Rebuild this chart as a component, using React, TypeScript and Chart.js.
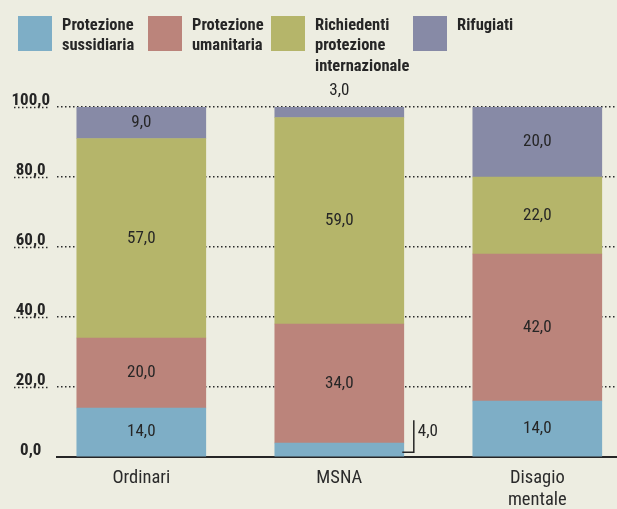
import React, { useEffect, useRef } from 'react';
import { Chart, registerables } from 'chart.js';

Chart.register(...registerables);

// ---- data ----
const categories: string[][] = [['Ordinari'], ['MSNA'], ['Disagio', 'mentale']];
const seriesNames = [
  'Protezione sussidiaria',
  'Protezione umanitaria',
  'Richiedenti protezione internazionale',
  'Rifugiati',
];
const sussidiaria = [14, 4, 16]; // bar heights as drawn
const sussidiariaPrinted = [14, 4, 14]; // numbers printed in the source
const umanitaria = [20, 34, 42];
const richiedenti = [57, 59, 22];
const rifugiati = [9, 3, 20];
const yMin = 0;
const yMax = 100;
const yStep = 20;

// ---- style ----
const COLORS = ['#7eaec6', '#bb847b', '#b5b56a', '#878aa6'];
const BG = '#ededE1';
const INK = '#262626';
const FONT = "'Roboto Condensed', 'Open Sans Condensed', 'DejaVu Sans Condensed', sans-serif";
const LEGEND_X = [18, 148, 271, 413];
const CAT_PX0 = 141.3; // pixel of first category centre
const CAT_STEP = 198; // pixels between categories
const AREA_L = 57;
const AREA_R = 617;
const X_MIN = (AREA_L - CAT_PX0) / CAT_STEP;
const X_MAX = (AREA_R - CAT_PX0) / CAT_STEP;
const DASH = [1.5, 2.5];

const fmt = (v: number) => v.toFixed(1).replace('.', ',');

export default function App() {
  const ref = useRef<HTMLCanvasElement>(null);

  useEffect(() => {
    const canvas = ref.current;
    if (!canvas) return;
    const series = [sussidiaria, umanitaria, richiedenti, rifugiati];
    const printed = [sussidiariaPrinted, umanitaria, richiedenti, rifugiati];

    const bgPlugin = {
      id: 'bg',
      beforeDraw(chart: any) {
        const c = chart.ctx;
        c.save();
        c.fillStyle = BG;
        c.fillRect(0, 0, chart.width, chart.height);
        c.restore();
      },
    };

    const legendPlugin = {
      id: 'topLegend',
      afterDraw(chart: any) {
        const c = chart.ctx;
        c.save();
        c.font = `bold 16.5px ${FONT}`;
        c.textAlign = 'left';
        c.textBaseline = 'alphabetic';
        chart.data.datasets.forEach((ds: any, i: number) => {
          const x0 = LEGEND_X[i];
          c.fillStyle = ds.backgroundColor;
          c.fillRect(x0, 16, 34, 35);
          c.fillStyle = INK;
          String(ds.label)
            .split(' ')
            .forEach((w: string, k: number) => c.fillText(w, x0 + 44, 29.5 + k * 20.7));
        });
        c.restore();
      },
    };

    const valuePlugin = {
      id: 'values',
      afterDatasetsDraw(chart: any) {
        const c = chart.ctx;
        const n = chart.data.datasets.length;
        c.save();
        c.font = `17px ${FONT}`;
        c.fillStyle = INK;
        c.strokeStyle = INK;
        c.textBaseline = 'middle';
        chart.data.datasets.forEach((_ds: any, di: number) => {
          const meta = chart.getDatasetMeta(di);
          meta.data.forEach((el: any, j: number) => {
            const p = el.getProps(['x', 'y', 'base', 'width'], true);
            const v = series[di][j];
            const txt = fmt(printed[di][j]);
            if (v >= 5) {
              c.textAlign = 'center';
              c.fillText(txt, p.x, (p.y + p.base) / 2);
            } else if (di === n - 1) {
              c.textAlign = 'center';
              c.fillText(txt, p.x, p.y - 16);
            } else {
              const right = p.x + p.width / 2;
              c.textAlign = 'left';
              c.fillText(txt, right + 14, p.base - 25);
              c.lineWidth = 1.5;
              c.beginPath();
              c.moveTo(right + 10, p.base - 36);
              c.lineTo(right + 10, p.base - 4);
              c.lineTo(right - 1.5, p.base - 4);
              c.stroke();
            }
          });
        });
        c.restore();
      },
    };

    const underlinePlugin = {
      id: 'tickUnderline',
      afterDraw(chart: any) {
        const s = chart.scales.y;
        const c = chart.ctx;
        c.save();
        c.strokeStyle = '#2a2a2a';
        c.lineWidth = 1.5;
        c.setLineDash(DASH);
        s.ticks.forEach((t: any) => {
          if (t.value <= yMin) return;
          const y = Math.round(s.getPixelForValue(t.value)) + 0.5;
          c.beginPath();
          c.moveTo(14, y);
          c.lineTo(49, y);
          c.stroke();
        });
        c.restore();
      },
    };

    const chart = new Chart(canvas, {
      type: 'bar',
      data: {
        datasets: series.map((s, i) => ({
          label: seriesNames[i],
          data: s.map((v, j) => ({ x: j, y: v })),
          backgroundColor: COLORS[i],
          borderWidth: 0,
          grouped: false,
          barThickness: 129,
        })),
      } as any,
      options: {
        animation: false,
        responsive: false,
        events: [],
        layout: { padding: { top: 107, left: 0, right: 0, bottom: 0 } },
        plugins: { legend: { display: false }, tooltip: { enabled: false } },
        scales: {
          x: {
            type: 'linear',
            offset: false,
            min: X_MIN,
            max: X_MAX,
            bounds: 'data',
            grid: { display: false, drawTicks: false, offset: false },
            border: { display: true, color: INK, width: 2 },
            afterBuildTicks: (s: any) => {
              s.ticks = categories.map((_c, i) => ({ value: i }));
            },
            afterFit: (s: any) => {
              s.height = 52;
            },
            ticks: {
              autoSkip: false,
              maxRotation: 0,
              minRotation: 0,
              padding: 10,
              color: '#2b2b2b',
              font: { family: FONT, size: 18.5, lineHeight: 1.2 },
              callback: (v: any) => categories[Number(v)] ?? '',
            },
          },
          y: {
            stacked: true,
            min: yMin,
            max: yMax,
            afterFit: (s: any) => {
              s.width = AREA_L;
            },
            grid: { color: '#2a2a2a', lineWidth: 1.5, drawTicks: false },
            border: { display: false, dash: DASH },
            ticks: {
              stepSize: yStep,
              labelOffset: -6.5,
              crossAlign: 'center',
              padding: 7,
              color: INK,
              font: { family: FONT, size: 17, weight: 'bold' },
              callback: (v: any) => fmt(Number(v)),
            },
          },
        },
      } as any,
      plugins: [bgPlugin, legendPlugin, valuePlugin, underlinePlugin],
    });

    return () => chart.destroy();
  }, []);

  return (
    <div
      style={{
        position: 'fixed',
        left: 0,
        top: 0,
        width: 617,
        height: 509,
        background: BG,
      }}
    >
      <canvas ref={ref} width={617} height={509} style={{ display: 'block' }} />
    </div>
  );
}
